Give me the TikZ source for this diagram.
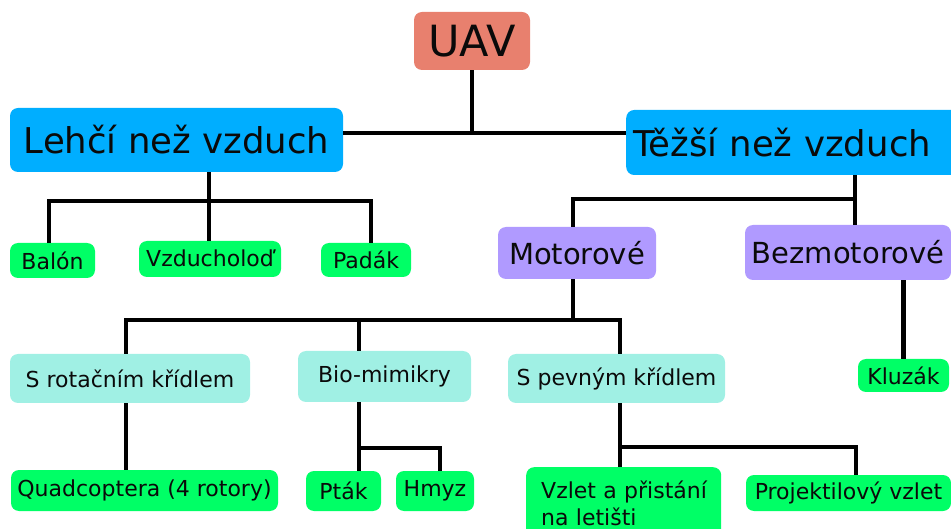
\documentclass[tikz,border=0pt]{standalone}
\usepackage{fontspec}
\setmainfont{DejaVu Sans}
\definecolor{rootc}{RGB}{232,128,110}
\definecolor{classc}{RGB}{0,174,255}
\definecolor{drivec}{RGB}{176,154,255}
\definecolor{wingc}{RGB}{160,240,228}
\definecolor{leafc}{RGB}{0,255,102}
\definecolor{inkc}{RGB}{10,10,10}
\begin{document}
\begin{tikzpicture}[x=1pt,y=-1pt,
  box/.style={rounded corners=8pt, inner sep=0pt, text=inkc},
  bigtxt/.style={font=\fontsize{35.5}{42}\selectfont},
  midtxt/.style={font=\fontsize{29}{34}\selectfont},
  smalltxt/.style={font=\fontsize{22}{27}\selectfont},
  link/.style={line width=4.2pt, line join=miter}]
\useasboundingbox (0,0) rectangle (951,529);
\clip (0,0) rectangle (951,529);

% top level
\node[box, fill=rootc, minimum width=116pt, minimum height=58pt,
      font=\fontsize{43}{50}\selectfont] (uav) at (472,41) {UAV};
\node[box, fill=classc, bigtxt, minimum width=333pt, minimum height=64pt] (lehci) at (176.5,140) {Lehčí než vzduch};
\node[box, fill=classc, bigtxt, anchor=west, inner xsep=7pt, text width=322pt, align=left,
      minimum height=65pt] (tezsi) at (626,142.5) {Těžší než vzduch};

% lighter than air
\node[box, fill=leafc, smalltxt, minimum width=85pt, minimum height=35pt] (balon) at (52.5,260.5) {Balón};
\node[box, fill=leafc, smalltxt, minimum width=142pt, minimum height=36pt] (vzd) at (210,259) {\raisebox{2pt}{Vzducholoď}};
\node[box, fill=leafc, smalltxt, minimum width=90pt, minimum height=34pt] (padak) at (366,260) {Padák\hspace{8pt}};

% heavier than air
\node[box, fill=drivec, midtxt, minimum width=158pt, minimum height=52pt] (mot) at (577,253) {Motorové};
\node[box, fill=drivec, midtxt, minimum width=206pt, minimum height=55pt] (bez) at (848,252.5) {Bezmotorové};

\node[box, fill=wingc, smalltxt, minimum width=240pt, minimum height=49pt] (rot) at (130,378.5) {S rotačním křídlem};
\node[box, fill=wingc, smalltxt, minimum width=173pt, minimum height=51pt] (bio) at (384.5,376.5) {Bio-mimikry};
\node[box, fill=wingc, smalltxt, minimum width=217pt, minimum height=49pt] (pev) at (616.5,378.5) {S pevným křídlem\hspace{10pt}};
\node[box, fill=leafc, smalltxt, minimum width=91pt, minimum height=33pt] (kluzak) at (903.5,375.5) {Kluzák};

\node[box, fill=leafc, smalltxt, minimum width=267pt, minimum height=41pt] (quad) at (144.5,490.5) {Quadcoptera (4 rotory)};
\node[box, fill=leafc, smalltxt, minimum width=75pt, minimum height=40pt] (ptak) at (343.5,491) {Pták};
\node[box, fill=leafc, smalltxt, minimum width=78pt, minimum height=40pt] (hmyz) at (435,491) {Hmyz};
\node[box, fill=leafc, smalltxt, anchor=north west, inner xsep=15pt, text width=165pt, align=left,
      minimum height=72pt] (vzlet) at (526,467) {\mbox{Vzlet a přistání}\\\mbox{na letišti}};
\node[box, fill=leafc, smalltxt, minimum width=205pt, minimum height=36pt] (proj) at (848.5,493) {Projektilový vzlet};

% junction points of the tree
\coordinate (j0) at (472,133);
\coordinate (jL) at (209,201);
\coordinate (kBal) at (49,201);
\coordinate (kPad) at (371,201);
\coordinate (jT) at (855,199);
\coordinate (jM) at (573,320);
\coordinate (kR) at (126,320);
\coordinate (kB) at (359,320);
\coordinate (kP) at (620,320);
\coordinate (jB) at (359,448);
\coordinate (kH) at (440,448);
\coordinate (jP) at (620,447);
\coordinate (kJ) at (856,447);

% connectors
\draw[link] (uav.south) -- (j0);
\draw[link] (lehci.east |- j0) -- (tezsi.west |- j0);

\draw[link] (jL |- lehci.south) -- (jL |- vzd.north);
\draw[link] (kBal |- balon.north) -- (kBal) -- (kPad) -- (kPad |- padak.north);

\draw[link] (jT |- tezsi.south) -- (jT |- bez.north);
\draw[link] (jT) -- (jM |- jT) -- (jM |- mot.north);

\draw[link] (jM |- mot.south) -- (jM);
\draw[link] (kR |- rot.north) -- (kR) -- (kP) -- (kP |- pev.north);
\draw[link] (kB) -- (kB |- bio.north);
\draw[link] (kluzak.north |- bez.south) -- (kluzak.north);

\draw[link] (kR |- rot.south) -- (kR |- quad.north);
\draw[link] (jB |- bio.south) -- (jB |- ptak.north);
\draw[link] (jB) -- (kH) -- (kH |- hmyz.north);
\draw[link] (jP |- pev.south) -- (jP |- vzlet.north);
\draw[link] (jP) -- (kJ) -- (kJ |- proj.north);
\end{tikzpicture}
\end{document}
